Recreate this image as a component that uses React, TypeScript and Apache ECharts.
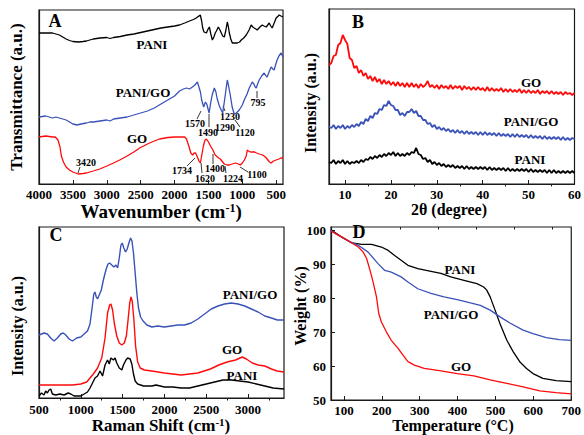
import React, { useEffect, useRef } from 'react';
import * as echarts from 'echarts';

const FONT = 'Liberation Serif, DejaVu Serif, serif';
const RED = '#ff0a0a';
const BLUE = '#3a52b8';
const BLACK = '#000000';

// ---------- Panel A : FTIR (wavenumber, transmittance a.u.) ----------
const ftirTicks = [4000, 3500, 3000, 2500, 2000, 1500, 1000, 500];
const ftirPANI: number[][] = [
  [4000,151],[3900,151],[3800,151],[3750,150],[3700,149],[3650,147],[3600,145],[3550,143.5],[3500,142.5],[3420,142],
  [3350,142.5],[3300,143],[3200,145],[3100,146],[3000,146.5],[2950,145.5],[2900,146.5],[2800,147.5],[2700,149],[2600,150],
  [2500,151.5],[2400,153],[2300,154.5],[2200,156],[2100,157],[2000,158],[1927,159],[1850,161],[1780,163],[1720,164.5],
  [1680,166],[1640,168],[1620,169],[1600,163],[1585,156],[1565,152],[1530,151],[1505,155],[1486,157],[1465,150],
  [1442,144],[1420,147],[1400,151],[1383,153],[1354,157],[1330,154],[1310,151],[1290,148],[1266,147],[1245,153],
  [1222,162],[1205,157],[1192,151],[1170,145],[1148,141],[1110,141],[1075,141],[1040,142],[1016,144],[980,146],
  [942,149],[900,154],[869,159],[845,157],[825,156],[800,155],[781,154],[740,157],[707,159],[680,158],
  [648,157],[625,159],[604,161],[580,158],[560,156],[530,161],[501,166],[470,168],[457,169],[430,168],[400,167],
];
const ftirPANIGO: number[][] = [
  [4000,67],[3900,68],[3850,67],[3800,66],[3750,67],[3700,66],[3650,65],[3600,64],[3550,62],[3500,60],
  [3440,59],[3380,60],[3300,61],[3250,62],[3200,62],[3100,63],[3000,64],[2950,63],[2900,65],[2800,66],
  [2700,67],[2600,69],[2500,71],[2400,73],[2300,76],[2200,80],[2100,84],[2000,88],[1927,93],[1870,95],
  [1824,96],[1780,95],[1736,97],[1700,99],[1663,102],[1640,97],[1619,92],[1600,84],[1570,77],[1545,82],
  [1525,80],[1490,71],[1470,80],[1445,89],[1413,96],[1390,92],[1370,85],[1339,78],[1290,71],[1266,82],
  [1240,95],[1222,104],[1200,97],[1178,89],[1150,77],[1120,70],[1090,71],[1045,74],[1000,79],[972,84],
  [930,90],[898,96],[854,102],[830,100],[810,97],[795,96],[775,100],[751,104],[715,108],[678,111],
  [650,108],[634,107],[600,113],[575,117],[550,115],[531,114],[510,119],[487,124],[460,128],[428,131],[400,127],
];
const ftirGO: number[][] = [
  [4000,47],[3900,48],[3800,47],[3760,47],[3720,44],[3690,37],[3670,28],[3640,22],[3600,17],[3550,14],
  [3500,12],[3420,10],[3350,10.5],[3300,11],[3200,13],[3103,15],[3000,18],[2900,21],[2809,24],[2700,28],
  [2600,32],[2515,36],[2400,40],[2300,43],[2221,45],[2100,46.5],[2000,47],[1898,47],[1850,47],[1824,45],
  [1790,38],[1760,31],[1734,29],[1710,31],[1690,31],[1663,27],[1640,23],[1620,21],[1600,28],[1575,38],
  [1550,44],[1530,45],[1500,42],[1470,38],[1442,35],[1400,29],[1383,28],[1350,26],[1325,25],[1290,22],
  [1266,20],[1224,19],[1192,19],[1150,20],[1100,21],[1060,20],[1030,19],[1000,21],[970,24],[942,28],
  [928,34],[910,33],[880,32],[854,32],[820,32],[790,31],[751,30],[700,29],[660,27],[634,25],
  [600,22],[575,21],[540,23],[501,24],[460,25],[430,26],[400,26],
];

// ---------- Panel B : XRD (2theta, intensity a.u.) ----------
const xrdTicks = [10, 20, 30, 40, 50, 60];
const xrdMinor = [15, 25, 35, 45, 55];
const xrdGO: number[][] = [
  [6.5,119],[7,121],[7.5,128],[8,129],[8.5,139],[9,141],[9.5,149],[10,144],[10.5,140],[11,126],
  [11.5,124],[12,116],[12.5,118],[13,111],[13.5,114],[14,108],[14.5,111],[15,105],[15.5,108],[16,103],
  [16.5,107],[17,102],[17.5,105],[18,100],[18.5,104],[19,100],[19.5,103],[20,99],[20.5,102],[21,98],
  [21.5,102],[22,98],[22.5,101],[23,97],[23.5,101],[24,97],[24.5,101],[25,97],[25.5,100],[26,96],
  [26.5,100],[27,97],[27.5,99],[28,103],[28.5,97],[29,99],[29.5,96],[30,99],[30.5,95],[31,99],
  [31.5,96],[32,98],[32.5,95],[33,99],[33.5,95],[34,98],[34.5,96],[35,98],[35.5,94],[36,98],
  [36.5,95],[37,97],[37.5,94],[38,97],[38.5,94],[39,97],[39.5,94],[40,96],[40.5,93],[41,97],
  [41.5,93],[42,96],[42.5,93],[43,95],[43.5,93],[44,96],[44.5,92],[45,95],[45.5,92],[46,95],
  [46.5,92],[47,94],[47.5,92],[48,95],[48.5,91],[49,94],[49.5,91],[50,94],[50.5,91],[51,93],
  [51.5,91],[52,94],[52.5,90],[53,93],[53.5,91],[54,93],[54.5,90],[55,93],[55.5,90],[56,92],
  [56.5,90],[57,92],[57.5,89],[58,92],[58.5,90],[59,91],[59.5,89],[60,91],
];
const xrdPANIGO: number[][] = [
  [6.5,57],[7,56],[7.5,59],[8,55],[8.5,58],[9,56],[9.5,59],[10,55],[10.5,58],[11,56],
  [11.5,59],[12,57],[12.5,60],[13,58],[13.5,62],[14,60],[14.5,65],[15,63],[15.5,68],[16,66],
  [16.5,71],[17,70],[17.5,75],[18,74],[18.5,79],[19,78],[19.5,83],[20,79],[20.5,78],[21,74],
  [21.5,74],[22,69],[22.5,71],[23,68],[23.5,72],[24,72],[24.5,75],[25,71],[25.5,73],[26,68],
  [26.5,68],[27,64],[27.5,64],[28,60],[28.5,61],[29,57],[29.5,59],[30,55],[30.5,57],[31,54],
  [31.5,56],[32,53],[32.5,55],[33,52],[33.5,54],[34,51],[34.5,54],[35,51],[35.5,53],[36,50],
  [36.5,53],[37,50],[37.5,52],[38,50],[38.5,52],[39,49],[39.5,52],[40,49],[40.5,52],[41,49],
  [41.5,51],[42,49],[42.5,51],[43,48],[43.5,51],[44,48],[44.5,50],[45,48],[45.5,50],[46,47],
  [46.5,50],[47,47],[47.5,50],[48,47],[48.5,49],[49,47],[49.5,49],[50,46],[50.5,49],[51,46],
  [51.5,48],[52,46],[52.5,48],[53,45],[53.5,48],[54,45],[54.5,47],[55,45],[55.5,47],[56,45],
  [56.5,47],[57,44],[57.5,47],[58,44],[58.5,46],[59,44],[59.5,46],[60,45],
];
const xrdPANI: number[][] = [
  [6.5,22],[7,21],[7.5,24],[8,20],[8.5,23],[9,21],[9.5,24],[10,20],[10.5,23],[11,20],
  [11.5,22],[12,21],[12.5,23],[13,21],[13.5,24],[14,22],[14.5,25],[15,24],[15.5,27],[16,25],
  [16.5,28],[17,26],[17.5,29],[18,27],[18.5,30],[19,28],[19.5,31],[20,29],[20.5,32],[21,28],
  [21.5,31],[22,28],[22.5,30],[23,28],[23.5,31],[24,29],[24.5,32],[25,31],[25.5,36],[26,30],
  [26.5,29],[27,25],[27.5,26],[28,22],[28.5,24],[29,20],[29.5,22],[30,19],[30.5,21],[31,18],
  [31.5,20],[32,17],[32.5,19],[33,17],[33.5,19],[34,16],[34.5,18],[35,16],[35.5,18],[36,15],
  [36.5,18],[37,15],[37.5,17],[38,15],[38.5,17],[39,15],[39.5,17],[40,15],[40.5,17],[41,14],
  [41.5,17],[42,14],[42.5,16],[43,14],[43.5,16],[44,14],[44.5,16],[45,13],[45.5,16],[46,13],
  [46.5,15],[47,13],[47.5,15],[48,13],[48.5,15],[49,13],[49.5,15],[50,12],[50.5,15],[51,12],
  [51.5,14],[52,12],[52.5,14],[53,12],[53.5,14],[54,11],[54.5,14],[55,11],[55.5,14],[56,11],
  [56.5,13],[57,11],[57.5,13],[58,11],[58.5,13],[59,11],[59.5,13],[60,11],
];

// ---------- Panel C : Raman (shift, intensity a.u.) ----------
const ramanTicks = [500, 1000, 1500, 2000, 2500, 3000];
const ramanMinor = [750, 1250, 1750, 2250, 2750, 3250];
const ramanPANIGO: number[][] = [
  [500,63],[530,64],[560,65],[600,64],[640,60],[680,57],[720,60],[760,64],[790,65],[820,63],
  [860,59],[900,57],[950,60],[1000,61],[1040,64],[1080,67],[1110,74],[1135,90],[1155,104],[1170,106],
  [1185,101],[1200,99],[1220,103],[1245,108],[1270,118],[1300,128],[1325,134],[1345,135],[1370,133],[1395,131],
  [1420,133],[1440,130],[1460,140],[1480,153],[1495,155],[1515,150],[1535,146],[1555,149],[1575,155],[1595,160],
  [1612,157],[1630,145],[1650,125],[1670,105],[1690,90],[1715,81],[1745,77],[1790,73],[1850,71],[1920,72],
  [2000,71],[2080,72],[2160,73],[2240,73],[2320,75],[2400,79],[2480,84],[2560,89],[2640,92],[2720,94],
  [2800,95],[2880,94],[2960,92],[3040,89],[3120,86],[3200,82],[3280,80],[3350,78],[3430,78],
];
const ramanGO: number[][] = [
  [500,13],[700,13],[900,13],[1000,14],[1070,16],[1110,20],[1150,24],[1200,30],[1250,40],[1290,60],
  [1320,85],[1345,93],[1360,94],[1380,88],[1400,75],[1430,62],[1460,55],[1490,53],[1520,55],[1545,62],
  [1565,78],[1585,95],[1600,101],[1615,97],[1635,78],[1655,52],[1680,36],[1710,30],[1760,28],[1850,27],
  [2000,25],[2200,23],[2400,25],[2550,29],[2650,33],[2750,36],[2850,38],[2930,41],[2980,39],[3050,35],
  [3120,33],[3200,32],[3280,29],[3350,27],[3430,26],
];
const ramanPANI: number[][] = [
  [500,2],[530,5],[560,3],[580,7],[600,5],[620,8],[640,9],[660,4],[700,3],[750,4],
  [800,3],[850,5],[880,4],[920,2],[960,2],[1000,2],[1040,4],[1080,6],[1110,10],[1140,15],
  [1170,20],[1200,22],[1230,27],[1260,22],[1290,33],[1320,38],[1340,34],[1360,40],[1390,38],[1410,40],
  [1430,35],[1460,30],[1490,28],[1510,33],[1540,38],[1560,40],[1590,39],[1610,34],[1630,24],[1650,17],
  [1680,14],[1750,12],[1800,12],[1850,12],[1900,13],[1950,12],[2000,11],[2100,11],[2200,10],[2300,10],
  [2400,12],[2500,14],[2600,16],[2700,18],[2800,18],[2900,17],[3000,16],[3100,14],[3200,12],[3300,10],[3430,9],
];

// ---------- Panel D : TGA (temperature C, weight %) ----------
const tgaXTicks = [100, 200, 300, 400, 500, 600, 700];
const tgaXMinor = [150, 250, 350, 450, 550, 650];
const tgaYTicks = [50, 60, 70, 80, 90, 100];
const tgaPANI: number[][] = [
  [66,100.2],[95,98],[121,96.3],[147,95.9],[173,95.9],[199,95.1],[217,94.1],[234,92.6],[251,91.2],[269,89.7],
  [295,88.7],[330,87.9],[356,87.3],[382,86.3],[417,85.3],[451,84.3],[469,83.3],[477,82.4],[486,80.4],[499,76.5],
  [512,72.5],[530,67.6],[547,64.2],[564,61.3],[582,59.3],[599,57.8],[625,56.4],[660,55.7],[700,55.4],
];
const tgaPANIGO: number[][] = [
  [66,100],[86,98.5],[112,96.9],[138,95.6],[164,93.6],[190,90.2],[208,88.2],[225,87.7],[251,86.3],[269,84.8],
  [295,82.8],[330,81.4],[364,80.4],[399,79.6],[434,78.6],[460,77.9],[486,76.5],[512,74.5],[538,72.7],[573,70.6],
  [599,69.6],[634,68.4],[669,67.8],[700,67.6],
];
const tgaGO: number[][] = [
  [66,99.8],[95,98],[121,96.3],[138,95.1],[151,93.6],[160,91.7],[169,88.2],[177,84.8],[186,80.4],[192,75.5],
  [199,73],[212,70.1],[225,67.6],[243,65.2],[256,63.2],[269,61.3],[286,60.3],[312,59.3],[356,58.6],[399,57.8],
  [443,57.1],[486,55.9],[530,54.9],[573,53.9],[617,52.7],[660,52.2],[700,51.8],
];

const labelStyle = (size: number) => ({
  fontFamily: FONT,
  fontWeight: 'bold' as const,
  fontSize: size,
  fill: '#000',
  textAlign: 'center' as const,
  textVerticalAlign: 'middle' as const,
});

const txt = (text: string, x: number, y: number, size: number, rotate = 0, rich?: any) => ({
  type: 'text',
  x,
  y,
  rotation: rotate,
  style: { ...labelStyle(size), text, ...(rich ? { rich } : {}) },
});

const ln = (x1: number, y1: number, x2: number, y2: number) => ({
  type: 'line',
  shape: { x1, y1, x2, y2 },
  style: { stroke: '#000', lineWidth: 0.8 },
});

const supRich = (size: number) => ({
  sup: { fontFamily: FONT, fontWeight: 'bold', fontSize: size, verticalAlign: 'top' },
});

const AXIS_COLOR = '#1a1a1a';
const plainNum = (v: number) => String(v);

function mainX(gridIndex: number, min: number, max: number, ticks: number[], margin: number, inverse = false) {
  return {
    type: 'value',
    gridIndex,
    min,
    max,
    inverse,
    splitLine: { show: false },
    axisLine: { show: true, onZero: false, lineStyle: { color: AXIS_COLOR, width: 1.2 } },
    axisTick: { show: true, inside: true, length: 4, customValues: ticks, lineStyle: { color: AXIS_COLOR, width: 1 } },
    axisLabel: {
      customValues: ticks,
      formatter: plainNum,
      fontFamily: FONT,
      fontWeight: 'bold',
      fontSize: 13,
      color: '#000',
      margin,
    },
  };
}

function minorX(gridIndex: number, min: number, max: number, ticks: number[]) {
  return {
    type: 'value',
    gridIndex,
    min,
    max,
    splitLine: { show: false },
    axisLine: { show: false },
    axisTick: { show: true, inside: true, length: 2.5, customValues: ticks, lineStyle: { color: AXIS_COLOR, width: 1 } },
    axisLabel: { show: false },
  };
}

function plainY(gridIndex: number, min: number, max: number) {
  return {
    type: 'value',
    gridIndex,
    min,
    max,
    splitLine: { show: false },
    axisLine: { show: true, onZero: false, lineStyle: { color: AXIS_COLOR, width: 1.2 } },
    axisTick: { show: false },
    axisLabel: { show: false },
  };
}

const line = (data: number[][], color: string, xAxisIndex: number, yAxisIndex: number, width = 1.3) => ({
  type: 'line',
  data,
  xAxisIndex,
  yAxisIndex,
  showSymbol: false,
  symbol: 'none',
  smooth: false,
  lineStyle: { color, width },
  z: 3,
});

export default function App() {
  const ref = useRef<HTMLDivElement>(null);
  useEffect(() => {
    const chart = echarts.init(ref.current!, null, { renderer: 'svg' });
    const gridBase = { show: true, borderColor: AXIS_COLOR, borderWidth: 1.2, backgroundColor: 'transparent', containLabel: false };
    const option: any = {
      animation: false,
      backgroundColor: '#ffffff',
      textStyle: { fontFamily: FONT },
      grid: [
        { ...gridBase, left: 39, top: 10, width: 244, height: 174 },
        { ...gridBase, left: 329, top: 9, width: 246, height: 175 },
        { ...gridBase, left: 39, top: 227, width: 245, height: 171 },
        { ...gridBase, left: 331, top: 227, width: 244, height: 173 },
      ],
      xAxis: [
        mainX(0, 400, 4000, ftirTicks, 4, true),
        mainX(1, 6.5, 60, xrdTicks, 4),
        mainX(2, 500, 3430, ramanTicks, 5),
        mainX(3, 66, 700, tgaXTicks, 4),
        minorX(1, 6.5, 60, xrdMinor),
        minorX(2, 500, 3430, ramanMinor),
        minorX(3, 66, 700, tgaXMinor),
      ],
      yAxis: [
        plainY(0, 0, 174),
        plainY(1, 0, 175),
        plainY(2, 0, 171),
        {
          type: 'value',
          gridIndex: 3,
          min: 50,
          max: 101,
          splitLine: { show: false },
          axisLine: { show: true, onZero: false, lineStyle: { color: AXIS_COLOR, width: 1.2 } },
          axisTick: { show: true, inside: true, length: 4, customValues: tgaYTicks, lineStyle: { color: AXIS_COLOR } },
          axisLabel: {
            customValues: tgaYTicks,
            formatter: plainNum,
            fontFamily: FONT,
            fontWeight: 'bold',
            fontSize: 13,
            color: '#000',
            margin: 5,
          },
        },
      ],
      series: [
        line(ftirPANI, BLACK, 0, 0),
        line(ftirPANIGO, BLUE, 0, 0),
        line(ftirGO, RED, 0, 0),
        line(xrdGO, RED, 1, 1, 1.8),
        line(xrdPANIGO, BLUE, 1, 1, 1.8),
        line(xrdPANI, BLACK, 1, 1, 1.8),
        line(ramanPANIGO, BLUE, 2, 2, 1.4),
        line(ramanGO, RED, 2, 2, 1.4),
        line(ramanPANI, BLACK, 2, 2, 1.4),
        line(tgaPANI, BLACK, 3, 3, 1.3),
        line(tgaPANIGO, BLUE, 3, 3, 1.3),
        line(tgaGO, RED, 3, 3, 1.3),
      ],
      graphic: [
        // panel letters
        txt('A', 55, 21, 18),
        txt('B', 358, 22, 18),
        txt('C', 56, 235, 18),
        txt('D', 359, 232, 18),
        // axis names
        txt('Wavenumber (cm{sup|-1})', 161, 211, 19, 0, supRich(12)),
        txt('Transmittance (a.u.)', 16, 97, 17, Math.PI / 2),
        txt('2θ (degree)', 449, 209, 16),
        txt('Intensity (a.u.)', 310, 103, 16, Math.PI / 2),
        txt('Raman Shift (cm{sup|-1})', 161, 425, 17, 0, supRich(11)),
        txt('Intensity (a.u.)', 17, 326, 16, Math.PI / 2),
        txt('Temperature (°C)', 453, 425, 16),
        txt('Weight (%)', 300, 306, 16, Math.PI / 2),
        // series labels A
        txt('PANI', 152, 44, 13),
        txt('PANI/GO', 143, 92, 13),
        txt('GO', 137, 138, 13),
        // series labels B
        txt('GO', 531, 82, 13),
        txt('PANI/GO', 531, 121, 13),
        txt('PANI', 530, 159, 13),
        // series labels C
        txt('PANI/GO', 250, 294, 13),
        txt('GO', 232, 349, 13),
        txt('PANI', 242, 375, 13),
        // series labels D
        txt('PANI', 460, 269, 13),
        txt('PANI/GO', 451, 314, 13),
        txt('GO', 461, 366, 13),
        // FTIR annotations
        txt('3420', 86, 162, 10),
        txt('1734', 182, 170, 10),
        txt('1620', 205, 178, 10),
        txt('1400', 215, 168, 10),
        txt('1224', 233, 178, 10),
        txt('1100', 257, 174, 10),
        txt('1570', 195, 123, 10),
        txt('1490', 208, 132, 10),
        txt('1230', 230, 116, 10),
        txt('1290', 225, 127.5, 10),
        txt('1120', 245, 132, 10),
        txt('795', 258, 102, 10),
        ln(80, 167, 78, 173),
        ln(187, 166, 195, 158),
        ln(202, 173, 201, 163),
        ln(213, 164, 213, 154),
        ln(226, 173, 225, 166),
        ln(248, 172, 240, 167),
        ln(197, 119, 201, 111),
        ln(209, 127, 209, 114),
        ln(225, 111, 223, 106),
        ln(240, 127, 235, 120),
        ln(257, 98, 257, 91),
      ],
    };
    chart.setOption(option);
    return () => chart.dispose();
  }, []);
  return (
    <div
      ref={ref}
      style={{ position: 'absolute', left: 0, top: 0, width: 584, height: 435, background: '#fff' }}
    />
  );
}
